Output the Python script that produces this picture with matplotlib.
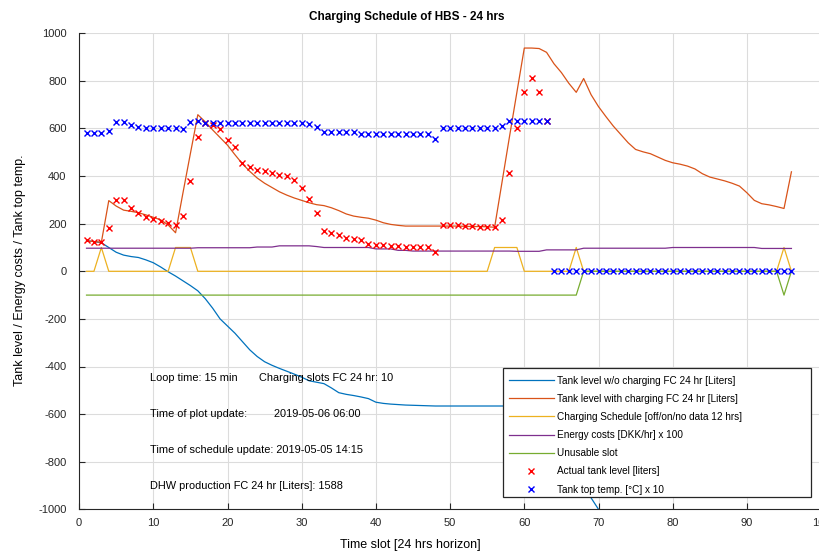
import numpy as np
import matplotlib
matplotlib.use('Agg')
import matplotlib.pyplot as plt
import matplotlib.patches as mpatches

# Данные графика
slots = list(range(1, 97))

# Уровень бака без зарядки [л]
tank_no_charge = [128, 125, 120, 100, 80, 68, 62, 58, 48, 36, 18, -2, -20, -40, -60, -82,
                  -115, -155, -200, -230, -260, -295, -330, -358, -380, -395, -408, -420,
                  -432, -445, -460, -466, -472, -490, -510, -517, -522, -528, -535, -550,
                  -555, -558, -560, -562, -563, -564, -565, -566, -566, -566, -566, -566,
                  -566, -566, -566, -566, -566, -566, -566, -566, -575, -610, -655, -700,
                  -750, -800, -850, -900, -952, -1000, -1050, -1090, -1120, -1160, -1185,
                  -1195, -1205, -1220, -1235, -1242, -1250, -1258, -1268, -1285, -1305,
                  -1312, -1320, -1330, -1340, -1365, -1400, -1415, -1420, -1428, -1435, -1440]

# Уровень бака с зарядкой [л]
tank_charge = [128, 125, 122, 297, 274, 257, 252, 246, 237, 227, 216, 195, 162, 330, 495, 658,
               628, 594, 562, 530, 490, 452, 420, 392, 370, 352, 334, 320, 308, 298, 288, 280,
               276, 267, 255, 241, 232, 227, 223, 215, 204, 197, 193, 190, 190, 190, 190, 190,
               190, 190, 190, 189, 188, 188, 187, 185, 375, 565, 752, 938, 938, 936, 920, 872,
               835, 790, 752, 810, 742, 692, 650, 610, 575, 540, 512, 502, 494, 480, 466, 456,
               450, 442, 430, 410, 396, 388, 380, 370, 358, 330, 298, 284, 279, 272, 264, 418]

# График зарядки (0 / 100)
on_slots = [3, 13, 14, 15, 56, 57, 58, 59, 67, 95]
schedule = [100 if s in on_slots else 0 for s in slots]

# Стоимость энергии x 100
energy_cost = ([97] * 15 + [99] * 8 + [102] * 3 + [107] * 5 + [104] + [100] * 7 +
               [94] * 3 + [88] * 2 + [85] * 14 + [84] * 4 + [90] * 5 + [97] * 12 +
               [100] * 12 + [96] * 5)

# Непригодные слоты
unusable = [-100] * 67 + [0] * 27 + [-100, 0]

# Фактический уровень бака (слоты 1..63)
actual_slots = list(range(1, 64))
actual_level = [131, 124, 124, 183, 300, 300, 267, 246, 227, 220, 213, 204, 193, 234, 381, 563,
                624, 615, 597, 552, 521, 456, 440, 427, 423, 412, 405, 400, 384, 349, 304, 244,
                169, 160, 154, 139, 136, 131, 114, 110, 110, 106, 106, 103, 103, 103, 101, 82,
                195, 195, 195, 190, 190, 188, 188, 185, 215, 414, 600, 752, 814, 752, 631]

# Температура верха бака x 10
top_temp = ([580, 580, 580, 590, 629, 629, 616, 606, 600, 600, 600, 600, 600, 598, 628, 630] +
            [625] * 14 + [619, 608] + [586] * 5 + [575] * 10 + [555] + [600] * 8 + [609] +
            [631] * 6 + [0] * 33)

# Шрифт как в MATLAB (Helvetica -> Liberation Sans)
plt.rcParams['font.family'] = ['Liberation Sans', 'DejaVu Sans']
plt.rcParams['font.size'] = 8
plt.rcParams['axes.unicode_minus'] = False

fig = plt.figure(figsize=(8.19, 5.52), dpi=100)
ax = fig.add_axes([79.1 / 819, 1 - 509.3 / 552, 742 / 819, 476 / 552])

lw = 0.9
ax.plot(slots, tank_no_charge, color='#0072BD', lw=lw, label='Tank level w/o charging FC 24 hr [Liters]')
ax.plot(slots, tank_charge, color='#D95319', lw=lw, label='Tank level with charging FC 24 hr [Liters]')
ax.plot(slots, schedule, color='#EDB120', lw=lw, label='Charging Schedule [off/on/no data 12 hrs]')
ax.plot(slots, energy_cost, color='#7E2F8E', lw=lw, label='Energy costs [DKK/hr] x 100')
ax.plot(slots, unusable, color='#77AC30', lw=lw, label='Unusable slot')
ax.plot(actual_slots, actual_level, 'x', color='red', ms=4.8, mew=1.0, label='Actual tank level [liters]')
ax.plot(slots, top_temp, 'x', color='blue', ms=4.8, mew=1.0, label='Tank top temp. [°C] x 10')

ax.set_xlim(0, 100)
ax.set_ylim(-1000, 1000)
ax.set_xticks(range(0, 101, 10))
ax.set_yticks(range(-1000, 1001, 200))
ax.grid(True, color='#dcdcdc', lw=0.8)
ax.set_axisbelow(True)
ax.tick_params(direction='in', length=4, colors='#262626', labelsize=8)
ax.tick_params(axis='y', pad=9)
ax.tick_params(axis='x', pad=6)
ax.spines['top'].set_visible(False)
ax.spines['right'].set_visible(False)
ax.spines['left'].set_color('#262626')
ax.spines['bottom'].set_color('#262626')

# Текстовые пояснения
ax.text(9.6, -448, 'Loop time: 15 min', va='center', fontsize=7.9)
ax.text(24.2, -448, 'Charging slots FC 24 hr: 10', va='center', fontsize=7.9)
ax.text(9.6, -600, 'Time of plot update:', va='center', fontsize=7.9)
ax.text(26.3, -600, '2019-05-06 06:00', va='center', fontsize=7.9)
ax.text(9.6, -751, 'Time of schedule update: 2019-05-05 14:15', va='center', fontsize=7.9)
ax.text(9.6, -902, 'DHW production FC 24 hr [Liters]: 1588', va='center', fontsize=7.9)

fig.text(407 / 819, 1 - 17 / 552, 'Charging Schedule of HBS - 24 hrs', ha='center', va='center',
         fontsize=8.5, fontweight='bold')
fig.text(410 / 819, 1 - 545 / 552, 'Time slot [24 hrs horizon]', ha='center', va='center', fontsize=9)
fig.text(20 / 819, 1 - 270 / 552, 'Tank level / Energy costs / Tank top temp.', ha='center',
         va='center', rotation=90, fontsize=9)

# Рамка легенды (в MATLAB она шире текста)
frame = mpatches.Rectangle((503 / 819, 1 - 497 / 552), 308 / 819, 129 / 552,
                           transform=fig.transFigure, facecolor='white', edgecolor='#262626',
                           lw=0.9, clip_on=False, zorder=4)
ax.add_patch(frame)

leg = ax.legend(loc='upper left', bbox_to_anchor=(503 / 819, 1 - 370 / 552),
                bbox_transform=fig.transFigure, fontsize=7.2, numpoints=1, handlelength=4.5,
                handletextpad=0.35, frameon=False, borderpad=0.55, borderaxespad=0,
                labelspacing=0.82)
leg.set_zorder(5)

plt.savefig('out.png', dpi=100)
